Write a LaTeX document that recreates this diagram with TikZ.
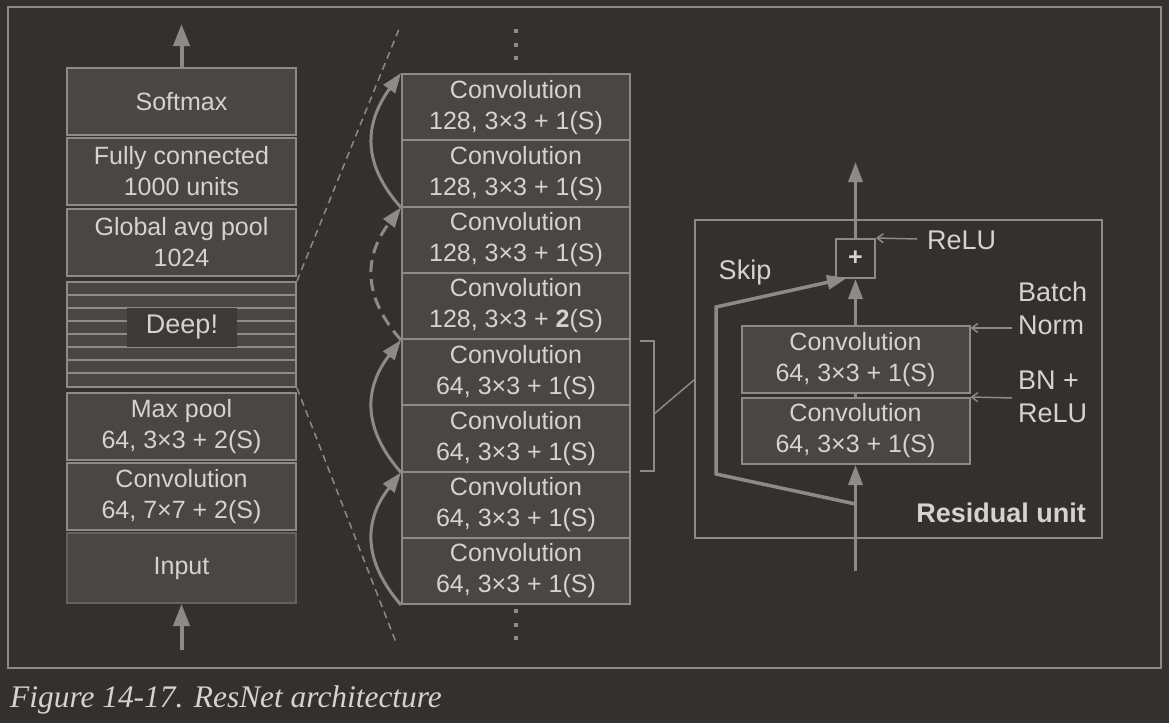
\documentclass[tikz,border=0pt]{standalone}
\usepackage{fontspec}
\setsansfont{Liberation Sans}
\newfontfamily\capfont{Liberation Serif}
\usetikzlibrary{arrows.meta,calc}
\definecolor{bgc}{HTML}{33302D}
\definecolor{boxc}{HTML}{4A4643}
\definecolor{linec}{HTML}{8E8A86}
\definecolor{txtc}{HTML}{D6D2CE}
\definecolor{inbord}{HTML}{65615D}
\definecolor{deepc}{HTML}{3D3936}
\tikzset{
  layer/.style={draw=linec, fill=boxc, line width=2pt, inner sep=0pt, align=center,
    text=txtc, font=\sffamily\fontsize{25}{31}\selectfont},
  lbl/.style={text=txtc, inner sep=0pt, align=left, font=\sffamily\fontsize{27}{33}\selectfont},
  bigtip/.style={-{Triangle[width=16pt,length=22pt]}, line width=4pt, draw=linec, color=linec},
  skiparrow/.style={-{Triangle[width=14pt,length=20pt]}, line width=3pt, color=linec},
  thinarrow/.style={-{Straight Barb[width=9pt,length=6pt]}, line width=1.5pt, color=linec},
  guide/.style={dashed, dash pattern=on 7pt off 5pt, line width=1.5pt, color=linec},
}
\begin{document}
\begin{tikzpicture}[x=1pt,y=-1pt]
\useasboundingbox (0,0) rectangle (1169,723);
\fill[bgc] (0,0) rectangle (1169,723);
\draw[linec, line width=2pt] (8,7) rectangle (1161,668);

% ---------- left column ----------
\node[layer, minimum width=229pt, minimum height=67pt] (softmax) at (181.5,101.5) {Softmax};
\node[layer, minimum width=229pt, minimum height=67pt] (fc) at (181.5,171.5) {Fully connected\\1000 units};
\node[layer, minimum width=229pt, minimum height=67pt] (gap) at (181.5,242.5) {Global avg pool\\1024};
\node[layer, minimum width=229pt, minimum height=105pt] (deep) at (181.5,334.5) {};
\foreach \yy in {295,308,321,334,347,360,373}
  \draw[linec, line width=2pt] (67,\yy) -- (296,\yy);
\node[fill=deepc, minimum width=110pt, minimum height=39pt, inner sep=0pt, text=txtc,
  font=\sffamily\fontsize{27}{33}\selectfont] (deeplbl) at (182,327.5) {Deep!};
\node[layer, minimum width=229pt, minimum height=67pt] (maxpool) at (181.5,426.5) {Max pool\\64, 3×3 + 2(S)};
\node[layer, minimum width=229pt, minimum height=67pt] (conv1) at (181.5,496.5) {Convolution\\64, 7×7 + 2(S)};
\node[layer, draw=inbord, minimum width=229pt, minimum height=70pt] (input) at (181.5,568) {Input};
\coordinate (outtop) at (181.5,24);
\coordinate (inbot) at (181.5,650);
\draw[bigtip] (softmax.north) -- (outtop);
\draw[bigtip] (inbot) -- (input.south);

% ---------- middle column ----------
\foreach \i/\t in {1/{128, 3×3 + 1(S)},2/{128, 3×3 + 1(S)},3/{128, 3×3 + 1(S)},4/{128, 3×3 + \textbf{2}(S)},
  5/{64, 3×3 + 1(S)},6/{64, 3×3 + 1(S)},7/{64, 3×3 + 1(S)},8/{64, 3×3 + 1(S)}}
  \node[layer, minimum width=228pt, minimum height=66.25pt] (m\i) at (516,{74+66.25*(\i-0.5)}) {Convolution\\\t};

\foreach \yy in {31,44.5,58,611,624.5,638}
  \fill[linec] (514,\yy-2) rectangle (518,\yy+2);

% guide lines
\coordinate (gtop) at (399,29);
\coordinate (gbot) at (397,645);
\draw[guide] (deep.north east) -- (gtop);
\draw[guide] (deep.south east) -- (gbot);

% skip arrows in middle column
\draw[skiparrow] (m8.south west) .. controls (362,560) and (364,520) .. (m6.south west);
\draw[skiparrow] (m6.south west) .. controls (362,428) and (364,388) .. (m4.south west);
\draw[skiparrow, dash pattern=on 12pt off 7pt] (m4.south west) .. controls (362,296) and (364,256) .. (m2.south west);
\draw[skiparrow] (m2.south west) .. controls (362,164) and (364,124) .. (m1.north west);

% bracket
\coordinate (b1) at (640,341);
\coordinate (b2) at (654,341);
\coordinate (b3) at (654,471);
\coordinate (b4) at (640,471);
\coordinate (bmid) at (654,414);
\draw[linec, line width=1.5pt] (b1) -- (b2) -- (b3) -- (b4);

% ---------- residual unit ----------
\node[draw=linec, line width=2pt, minimum width=407pt, minimum height=318pt, inner sep=0pt] (res) at (898.5,379) {};
\draw[linec, line width=1.5pt] (bmid) -- (res.west |- 0,380);
\node[layer, minimum width=39pt, minimum height=39pt, fill=bgc, font=\sffamily\bfseries\fontsize{25}{31}\selectfont] (plus) at (855.5,258.5) {+};
\node[layer, minimum width=228pt, minimum height=67pt] (r1) at (855.5,359.5) {Convolution\\64, 3×3 + 1(S)};
\node[layer, minimum width=228pt, minimum height=66pt] (r2) at (855.5,431) {Convolution\\64, 3×3 + 1(S)};
\coordinate (rtop) at (855.5,162);
\coordinate (rbot) at (855.5,571);
\coordinate (sk0) at (855.5,504);
\coordinate (sk1) at (716,474);
\coordinate (sk2) at (716,307);
\coordinate (sk3) at (847,278);
\draw[skiparrow, line width=3.5pt] (plus.north) -- (rtop);
\draw[skiparrow, line width=3.5pt] (r1.north) -- (plus.south);
\draw[linec, line width=3.5pt] (r2.north) -- (r1.south);
\draw[skiparrow, line width=3.5pt] (rbot) -- (r2.south);
\draw[skiparrow, line width=3.5pt, line join=miter] (sk0) -- (sk1) -- (sk2) -- (sk3);

\node[lbl, anchor=west] (relu) at (927,240) {ReLU};
\node[lbl, anchor=west] (bn) at (1018,308.5) {Batch\\Norm};
\node[lbl, anchor=west] (bnrelu) at (1018,396.5) {BN +\\ReLU};
\node[lbl] (skip) at (745,273) {Skip};
\node[lbl, font=\sffamily\bfseries\fontsize{27}{33}\selectfont] (reslbl) at (1001,513) {Residual unit};
\draw[thinarrow] (917,239) -- (plus.north east);
\draw[thinarrow] (1012,328) -- (r1.north east |- 0,328);
\draw[thinarrow] (1012,398) -- (r2.north east);

% caption
\node[anchor=base west, inner sep=0pt, text=txtc, font=\capfont\itshape\fontsize{31.4}{36}\selectfont] (cap) at (10,707) {Figure 14-17. ResNet architecture};
\end{tikzpicture}
\end{document}
